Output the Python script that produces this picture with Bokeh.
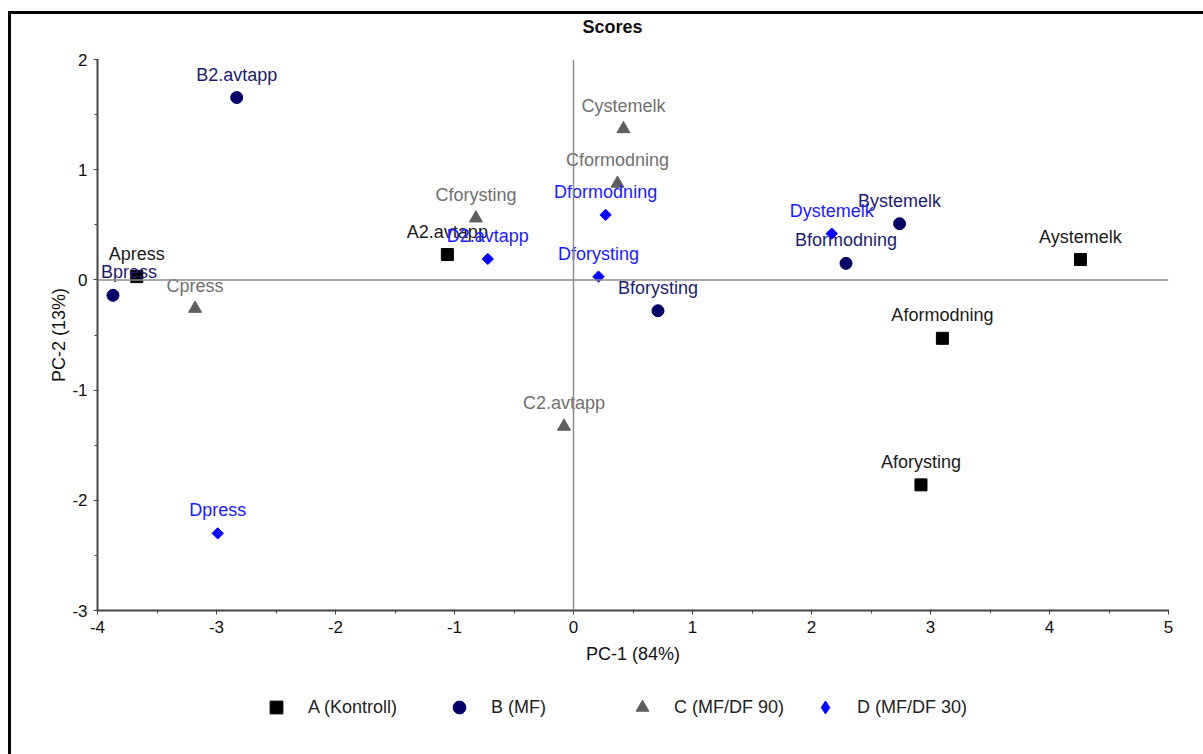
import math
from bokeh.plotting import figure
from bokeh.layouts import column
from bokeh.models import (Range1d, SingleIntervalTicker, Span, Legend, Label,
                          LegendItem, ColumnDataSource)
from bokeh.core.properties import value
from bokeh.embed import file_html
from bokeh.resources import INLINE

# PCA scores per treatment group
a_names = ["Apress", "A2.avtapp", "Aystemelk", "Aformodning", "Aforysting"]
a_pc1 = [-3.67, -1.06, 4.26, 3.10, 2.92]
a_pc2 = [0.03, 0.23, 0.185, -0.53, -1.86]

b_names = ["Bpress", "B2.avtapp", "Bforysting", "Bformodning", "Bystemelk"]
b_pc1 = [-3.87, -2.83, 0.71, 2.29, 2.74]
b_pc2 = [-0.14, 1.655, -0.28, 0.15, 0.51]

c_names = ["Cpress", "Cforysting", "Cystemelk", "Cformodning", "C2.avtapp"]
c_pc1 = [-3.18, -0.82, 0.42, 0.37, -0.08]
c_pc2 = [-0.26, 0.56, 1.37, 0.875, -1.33]

d_names = ["Dpress", "D2.avtapp", "Dforysting", "Dformodning", "Dystemelk"]
d_pc1 = [-2.99, -0.72, 0.21, 0.27, 2.17]
d_pc2 = [-2.30, 0.19, 0.03, 0.59, 0.42]

group_labels = ["A (Kontroll)", "B (MF)", "C (MF/DF 90)", "D (MF/DF 30)"]

x_ticks = [-4, -3, -2, -1, 0, 1, 2, 3, 4, 5]
x_tick_labels = ["-4", "-3", "-2", "-1", "0", "1", "2", "3", "4", "5"]
y_ticks = [-3, -2, -1, 0, 1, 2]
y_tick_labels = ["-3", "-2", "-1", "0", "1", "2"]

FONT = "Liberation Sans"
W = 1192

# ---- title strip (its frame is aligned with the plot frame by the column) ----
t = figure(width=W, height=33, x_range=Range1d(0, 1), y_range=Range1d(0, 1),
           output_backend="svg", toolbar_location=None,
           x_axis_type=None, y_axis_type=None, min_border=0)
t.outline_line_color = None
t.grid.visible = False
t.add_layout(Label(x=515, y=21, x_units="screen", y_units="screen", text="Scores",
                   text_align="center", text_baseline="middle", text_font=FONT,
                   text_font_size="18px", text_font_style="bold",
                   text_color="#111111"))

# ---- main score plot ----
p = figure(width=W, height=627, x_range=Range1d(-4, 5), y_range=Range1d(-3, 2),
           output_backend="svg", toolbar_location=None,
           min_border_left=86, min_border_right=35, min_border_top=12,
           min_border_bottom=64)
p.outline_line_color = None
p.grid.visible = False

for ax in (p.xaxis[0], p.yaxis[0]):
    ax.ticker = SingleIntervalTicker(interval=1, num_minor_ticks=2)
    ax.axis_line_color = "#444444"
    ax.axis_line_width = 2
    ax.major_tick_line_color = "#444444"
    ax.minor_tick_line_color = "#444444"
    ax.major_tick_out = 4
    ax.major_tick_in = 1
    ax.minor_tick_out = 3
    ax.minor_tick_in = 0
    ax.major_label_text_font = FONT
    ax.major_label_text_font_size = "17px"
    ax.major_label_text_color = "#111111"
    ax.axis_label_text_font = FONT
    ax.axis_label_text_font_size = "18px"
    ax.axis_label_text_font_style = "normal"
    ax.axis_label_text_color = "#111111"

p.xaxis.major_label_overrides = dict(zip(x_ticks, x_tick_labels))
p.yaxis.major_label_overrides = dict(zip(y_ticks, y_tick_labels))
p.xaxis.axis_label = "PC-1 (84%)"
p.yaxis.axis_label = "PC-2 (13%)"
p.xaxis.major_label_standoff = 6
p.xaxis.axis_label_standoff = 8
p.yaxis.major_label_standoff = 6
p.yaxis.axis_label_standoff = 0

# zero lines
p.add_layout(Span(location=0, dimension="width", line_color="#8c8c8c", line_width=1.5))
p.add_layout(Span(location=0, dimension="height", line_color="#8c8c8c", line_width=1.5))

# marker styles per group: marker, angle, marker colour, label colour, size
styles = [
    ("square", 0.0, "#000000", "#1a1a1a", 12),
    ("circle", 0.0, "#000066", "#1c1c70", 12),
    ("triangle", 0.0, "#5e5e5e", "#707070", 13),
    ("square", math.pi / 4, "#0000ff", "#1a1aff", 8),
]
legend_markers = ["square", "circle", "triangle", "diamond"]
series = [(a_names, a_pc1, a_pc2), (b_names, b_pc1, b_pc2),
          (c_names, c_pc1, c_pc2), (d_names, d_pc1, d_pc2)]

# horizontal nudge (px) for labels that would cross the left axis
label_nudge = {"Bpress": 16}

sources = []
for (names, xs, ys), (marker, ang, mcol, tcol, size) in zip(series, styles):
    src = ColumnDataSource(dict(x=xs, y=ys, name=names,
                                dx=[label_nudge.get(n, 0) for n in names]))
    sources.append(src)
    p.scatter("x", "y", source=src, marker=marker, angle=ang, size=size,
              fill_color=mcol, line_color=mcol)
    p.text("x", "y", text="name", source=src, x_offset="dx", text_align="center",
           text_baseline="alphabetic", y_offset=-23, text_font=value(FONT),
           text_font_size="18px", text_color=tcol)

# ---- legend strip (its view range lies away from the data, so only the key shows) ----
q = figure(width=W, height=80, x_range=Range1d(20, 21), y_range=Range1d(20, 21),
           output_backend="svg", toolbar_location=None,
           x_axis_type=None, y_axis_type=None, min_border=0)
q.outline_line_color = None
q.grid.visible = False

items = []
for lab, src, lm, (marker, ang, mcol, tcol, size) in zip(group_labels, sources,
                                                          legend_markers, styles):
    r = q.scatter("x", "y", source=src, marker=lm, size=size,
                  fill_color=mcol, line_color=mcol)
    items.append(LegendItem(label=lab, renderers=[r]))

legend = Legend(items=items, orientation="horizontal", location=(163, 31),
                glyph_width=32, glyph_height=32, label_standoff=16,
                label_width=130, spacing=5, padding=0, margin=0,
                border_line_color=None, background_fill_alpha=0,
                label_text_font=FONT, label_text_font_size="18px",
                label_text_color="#222222")
q.add_layout(legend, "center")

layout = column(t, p, q, spacing=0)
layout.styles = {"margin-left": "8px", "margin-top": "11px",
                 "border-left": "3px solid black", "border-top": "3px solid black"}

open("out.html", "w").write(file_html(layout, INLINE))
